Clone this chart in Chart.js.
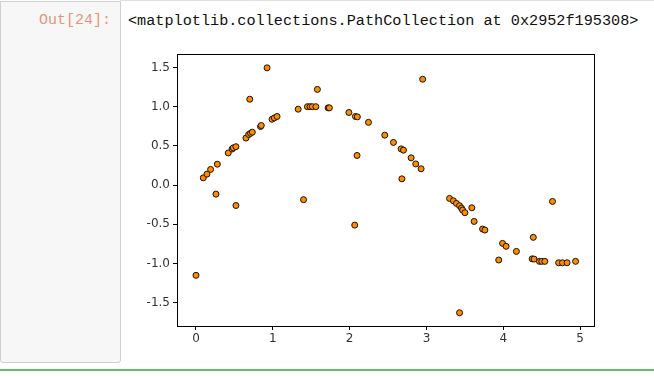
<!DOCTYPE html>
<html>
<head>
<meta charset="utf-8">
<script src="https://cdn.jsdelivr.net/npm/chart.js@4"></script>
<style>
  html, body { margin: 0; padding: 0; background: #fff; }
  body { width: 654px; height: 377px; position: relative; overflow: hidden; }
  .topline { position: absolute; left: 120px; top: 0; width: 534px; height: 1px; background: #e0e0e0; }
  .prompt-box { position: absolute; left: 0; top: 1px; width: 119px; height: 360px;
    background: #f7f7f7; border: 1px solid #cfcfcf; border-radius: 0 0 3px 3px; }
  .prompt { position: absolute; left: 0; top: 12px; width: 111px; text-align: right;
    font-family: "Liberation Mono", "DejaVu Sans Mono", monospace; font-size: 15px; color: #e6957a; }
  .out-text { position: absolute; left: 128px; top: 12px;
    font-family: "Liberation Mono", "DejaVu Sans Mono", monospace; font-size: 15.2px; color: #111; white-space: pre; }
  .greenline { position: absolute; left: 0; top: 369px; width: 654px; height: 2px; background: #66bb6a; }
  #wrap { position: absolute; left: 120px; top: 44px; width: 490px; height: 310px; }
</style>
</head>
<body>
<div class="topline"></div>
<div class="prompt-box"></div>
<div class="prompt">Out[24]:</div>
<div class="out-text">&lt;matplotlib.collections.PathCollection at 0x2952f195308&gt;</div>
<div class="greenline"></div>
<div id="wrap"><canvas id="chart"></canvas></div>
<script>
// valores
const xs = [0.0, 0.095, 0.143, 0.19, 0.26, 0.278, 0.42, 0.47, 0.486, 0.52, 0.52, 0.65, 0.686, 0.70, 0.71, 0.733,
  0.84, 0.85, 0.925, 0.99, 1.02, 1.055, 1.33, 1.40, 1.45, 1.485, 1.515, 1.56, 1.58, 1.72, 1.736, 1.99,
  2.066, 2.075, 2.096, 2.10, 2.245, 2.457, 2.57, 2.67, 2.68, 2.70, 2.80, 2.86, 2.93, 2.95,
  3.30, 3.35, 3.39, 3.43, 3.43, 3.455, 3.47, 3.50, 3.59, 3.62, 3.73, 3.76, 3.94, 3.99, 4.036, 4.17,
  4.375, 4.39, 4.40, 4.47, 4.50, 4.54, 4.64, 4.72, 4.77, 4.83, 4.94];
const ys = [-1.15, 0.093, 0.14, 0.20, -0.115, 0.267, 0.41, 0.46, 0.475, 0.49, -0.26, 0.60, 0.645, 1.095, 0.66, 0.675,
  0.747, 0.76, 1.495, 0.84, 0.857, 0.875, 0.968, -0.185, 1.0, 1.0, 1.0, 1.0, 1.22, 0.985, 0.985, 0.926,
  -0.51, 0.875, 0.378, 0.87, 0.80, 0.637, 0.544, 0.462, 0.08, 0.446, 0.348, 0.27, 0.208, 1.35,
  -0.17, -0.20, -0.233, -0.263, -1.627, -0.293, -0.318, -0.352, -0.289, -0.463, -0.56, -0.573, -0.955, -0.743, -0.78, -0.845,
  -0.94, -0.666, -0.943, -0.972, -0.972, -0.972, -0.208, -0.99, -0.99, -0.99, -0.972];

const xTicks = [0, 1, 2, 3, 4, 5];
const yTicks = [-1.5, -1.0, -0.5, 0.0, 0.5, 1.0, 1.5];

const puntos = xs.map((x, i) => ({ x, y: ys[i] }));

// marco completo estilo matplotlib
const frame = {
  id: 'frame',
  afterDraw(chart) {
    const { ctx, chartArea: a } = chart;
    ctx.save();
    ctx.strokeStyle = '#000';
    ctx.lineWidth = 1;
    ctx.strokeRect(Math.round(a.left) + 0.5, Math.round(a.top) + 0.5,
      Math.round(a.right - a.left), Math.round(a.bottom - a.top));
    ctx.restore();
  }
};

const tickFont = { family: 'DejaVu Sans', size: 12 };

new Chart(document.getElementById('chart'), {
  type: 'scatter',
  data: {
    datasets: [{
      data: puntos,
      backgroundColor: '#ff8c00',
      borderColor: '#1a1000',
      borderWidth: 1,
      pointRadius: 3,
      pointHoverRadius: 3
    }]
  },
  options: {
    responsive: true,
    maintainAspectRatio: false,
    animation: false,
    layout: { padding: { top: 10, right: 16, left: 0, bottom: 0 } },
    plugins: { legend: { display: false }, tooltip: { enabled: false } },
    scales: {
      x: {
        type: 'linear',
        min: -0.247,
        max: 5.18,
        afterBuildTicks: (axis) => { axis.ticks = xTicks.map(v => ({ value: v })); },
        afterFit: (scale) => { scale.height = 28; },
        grid: { drawOnChartArea: false, drawTicks: true, tickLength: 4, color: '#000' },
        border: { display: true, color: '#000' },
        ticks: { color: '#333', font: tickFont, padding: 2, maxRotation: 0, callback: (v) => String(v) }
      },
      y: {
        type: 'linear',
        min: -1.796,
        max: 1.669,
        afterBuildTicks: (axis) => { axis.ticks = yTicks.map(v => ({ value: v })); },
        afterFit: (scale) => { scale.width = 57; },
        grid: { drawOnChartArea: false, drawTicks: true, tickLength: 4, color: '#000' },
        border: { display: true, color: '#000' },
        ticks: { color: '#333', font: tickFont, padding: 3, callback: (v) => Number(v).toFixed(1) }
      }
    }
  },
  plugins: [frame]
});
</script>
</body>
</html>
